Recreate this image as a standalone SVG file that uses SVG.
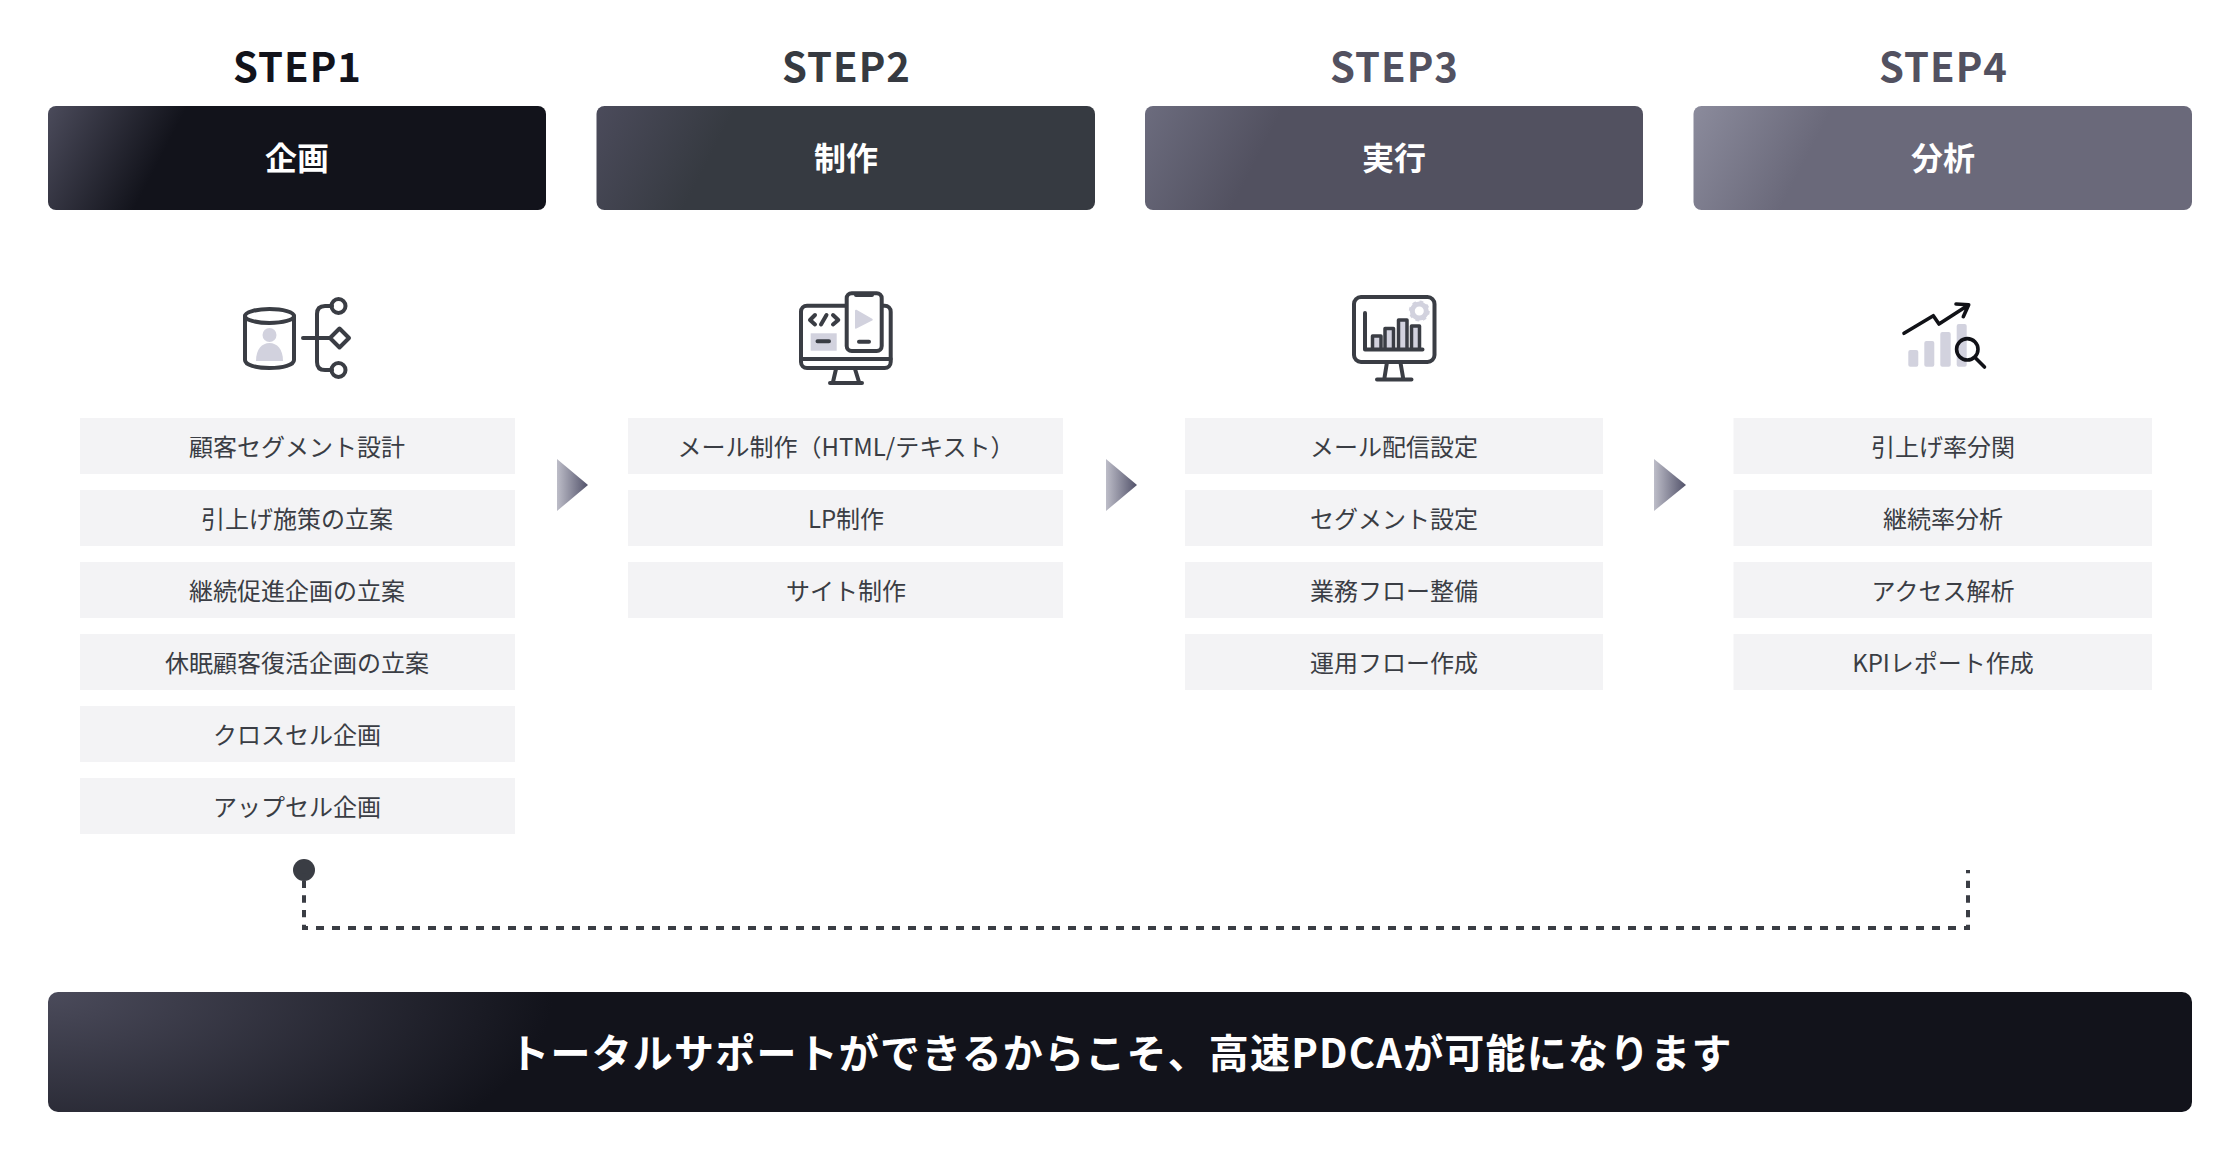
<svg xmlns="http://www.w3.org/2000/svg" width="2240" height="1176" viewBox="0 0 2240 1176">
<style>
text{font-family:"Noto Sans CJK JP","Noto Sans",sans-serif;text-anchor:middle}
.step{font-size:40px;font-weight:700;letter-spacing:1px}
.head{font-size:32px;font-weight:700;fill:#fff}
.item{font-size:24px;font-weight:400;fill:#3a3d44}
.box{fill:#f3f3f5}
.bar{font-size:40px;font-weight:700;fill:#fff;letter-spacing:1.2px}
.ln{fill:none;stroke:#3a3d44;stroke-width:4;stroke-linecap:round;stroke-linejoin:round}
.ac{fill:#d2d2de}
.conn{fill:none;stroke:#3a3d44;stroke-width:4}
</style>
<defs>
<linearGradient id="g1" gradientUnits="userSpaceOnUse" x1="48" y1="106" x2="158" y2="163"><stop offset="0" stop-color="#4b4b5b"/><stop offset="1" stop-color="#12131b"/></linearGradient>
<linearGradient id="g2" gradientUnits="userSpaceOnUse" x1="597" y1="106" x2="707" y2="163"><stop offset="0" stop-color="#4b4b5b"/><stop offset="1" stop-color="#363a41"/></linearGradient>
<linearGradient id="g3" gradientUnits="userSpaceOnUse" x1="1145" y1="106" x2="1255" y2="163"><stop offset="0" stop-color="#6c6c7e"/><stop offset="1" stop-color="#525160"/></linearGradient>
<linearGradient id="g4" gradientUnits="userSpaceOnUse" x1="1694" y1="106" x2="1804" y2="163"><stop offset="0" stop-color="#8b8b9c"/><stop offset="1" stop-color="#6a697a"/></linearGradient>
<radialGradient id="g5" gradientUnits="userSpaceOnUse" cx="0" cy="0" r="1" gradientTransform="translate(48 992) scale(505 218)"><stop offset="0" stop-color="#4b4b5b"/><stop offset="1" stop-color="#12131b"/></radialGradient>
<linearGradient id="ga" x1="0" y1="0" x2="1" y2="0"><stop offset="0" stop-color="#bdbdc8"/><stop offset="1" stop-color="#52526a"/></linearGradient>
</defs>
<rect width="2240" height="1176" fill="#fff"/>

<g id="step1">
<text class="step" x="297.500" y="82" fill="#12131b">STEP1</text>
<rect x="48" y="106" width="498" height="104" rx="8" fill="url(#g1)"/>
<text class="head" x="297" y="170">企画</text>
<g id="icon1">
<path class="ac" d="M256 361C256 349 262 343 269.500 343C277 343 283 349 283 361Z"/><circle class="ac" cx="269.500" cy="335" r="7"/>
<ellipse class="ln" cx="269.500" cy="316" rx="24.500" ry="7"/>
<path class="ln" d="M245 316V360C245 365 256 368 269.500 368C283 368 294 365 294 360V316"/>
<path class="ln" d="M332 306H325Q317 306 317 314V362Q317 370 325 370H332M303 338H330"/>
<circle class="ln" cx="338.500" cy="306" r="7"/><circle class="ln" cx="338.500" cy="370" r="7"/>
<path class="ln" d="M339.500 328.500L349 338L339.500 347.500L330 338Z"/>
</g>
<rect class="box" x="80" y="418" width="435" height="56"/><text class="item" x="297" y="456">顧客セグメント設計</text>
<rect class="box" x="80" y="490" width="435" height="56"/><text class="item" x="297" y="528">引上げ施策の立案</text>
<rect class="box" x="80" y="562" width="435" height="56"/><text class="item" x="297" y="600">継続促進企画の立案</text>
<rect class="box" x="80" y="634" width="435" height="56"/><text class="item" x="297" y="672">休眠顧客復活企画の立案</text>
<rect class="box" x="80" y="706" width="435" height="56"/><text class="item" x="297" y="744">クロスセル企画</text>
<rect class="box" x="80" y="778" width="435" height="56"/><text class="item" x="297" y="816">アップセル企画</text>
</g>

<g id="step2">
<text class="step" x="846.500" y="82" fill="#363a41">STEP2</text>
<rect x="596.500" y="106" width="498.500" height="104" rx="8" fill="url(#g2)"/>
<text class="head" x="846" y="170">制作</text>
<g id="icon2">
<rect class="ln" x="801" y="305.700" width="89.700" height="62.300" rx="6"/>
<path class="ln" d="M801 359H890.700M836 369L833 382M855 369L859 382M830 383H862"/>
<rect class="ac" x="810.700" y="333.300" width="26" height="17.400"/>
<path class="ln" d="M815 315L810 320L815 324.500M821 324.500L826.500 315M833 315L838.300 320L833 324.500M817.500 341.300H829"/>
<rect class="ln" x="846.700" y="293.300" width="35" height="57.700" rx="5" style="fill:#fff"/>
<path class="ac" d="M856 310.700L871.700 319.700L856 327.700Z" stroke="#d2d2de" stroke-width="2" stroke-linejoin="round"/>
<path class="ln" d="M856 295H872M859 341.700H869"/>
</g>
<rect class="box" x="628" y="418" width="435" height="56"/><text class="item" x="846" y="456">メール制作（HTML/テキスト）</text>
<rect class="box" x="628" y="490" width="435" height="56"/><text class="item" x="846" y="528">LP制作</text>
<rect class="box" x="628" y="562" width="435" height="56"/><text class="item" x="846" y="600">サイト制作</text>
</g>

<g id="step3">
<text class="step" x="1394.500" y="82" fill="#525160">STEP3</text>
<rect x="1145" y="106" width="498" height="104" rx="8" fill="url(#g3)"/>
<text class="head" x="1394" y="170">実行</text>
<g id="icon3">
<rect class="ln" x="1354" y="297" width="80.500" height="65" rx="7"/>
<path class="ln" d="M1386.700 364L1384.300 379M1400.700 364L1403.300 379M1377 379.500H1411.500"/>
<circle cx="1419.300" cy="311" r="7" fill="none" stroke="#d2d2de" stroke-width="5"/>
<circle cx="1419.300" cy="311" r="9" fill="none" stroke="#d2d2de" stroke-width="3" stroke-dasharray="3.500 3.570"/>
<rect class="ac" x="1372.500" y="336" width="8.500" height="13"/><rect class="ac" x="1385" y="328.500" width="8.500" height="20.500"/><rect class="ac" x="1398.500" y="320" width="8.500" height="29"/><rect class="ac" x="1411.500" y="326" width="8" height="23"/>
<path class="ln" style="stroke-width:3.500" d="M1372.500 349V336H1381V349M1385 349V328.500H1393.500V349M1398.500 349V320H1407V349M1411.500 349V326H1419.500V349"/>
<path class="ln" d="M1365 313V349.500H1422.500"/>
</g>
<rect class="box" x="1185" y="418" width="418" height="56"/><text class="item" x="1394" y="456">メール配信設定</text>
<rect class="box" x="1185" y="490" width="418" height="56"/><text class="item" x="1394" y="528">セグメント設定</text>
<rect class="box" x="1185" y="562" width="418" height="56"/><text class="item" x="1394" y="600">業務フロー整備</text>
<rect class="box" x="1185" y="634" width="418" height="56"/><text class="item" x="1394" y="672">運用フロー作成</text>
</g>

<g id="step4">
<text class="step" x="1943.500" y="82" fill="#525160">STEP4</text>
<rect x="1693.500" y="106" width="498.500" height="104" rx="8" fill="url(#g4)"/>
<text class="head" x="1943" y="170">分析</text>
<g id="icon4">
<rect class="ac" x="1908.300" y="350" width="10" height="16.700" rx="2"/><rect class="ac" x="1924.300" y="341" width="10" height="25.700" rx="2"/><rect class="ac" x="1940.300" y="332" width="10.400" height="34.700" rx="2"/><rect class="ac" x="1956.700" y="324" width="10" height="42.700" rx="2"/>
<g fill="none" stroke="#111217" stroke-width="3.600" stroke-linecap="round" stroke-linejoin="round">
<path d="M1904 333.300L1933.300 315.700L1939 324L1967.300 305.700M1956 304L1968.700 304.700L1963.300 316.700"/>
<circle cx="1967.300" cy="349.300" r="10.700"/><path d="M1976 358.500L1984.500 367"/>
</g>
</g>
<rect class="box" x="1733.500" y="418" width="418.500" height="56"/><text class="item" x="1943" y="456">引上げ率分関</text>
<rect class="box" x="1733.500" y="490" width="418.500" height="56"/><text class="item" x="1943" y="528">継続率分析</text>
<rect class="box" x="1733.500" y="562" width="418.500" height="56"/><text class="item" x="1943" y="600">アクセス解析</text>
<rect class="box" x="1733.500" y="634" width="418.500" height="56"/><text class="item" x="1943" y="672">KPIレポート作成</text>
</g>

<g id="connectors">
<path d="M557 459L588 485L557 511Z" fill="url(#ga)"/>
<path d="M1106 459L1137 485L1106 511Z" fill="url(#ga)"/>
<path d="M1654 459L1686 485L1654 511Z" fill="url(#ga)"/>
<circle cx="304" cy="870" r="11" fill="#3a3d44"/>
<path class="conn" d="M304 870V930" stroke-dasharray="7.330 7.330" stroke-dashoffset="4"/>
<path class="conn" d="M1968 870V930" stroke-dasharray="7.330 7.330" stroke-dashoffset="4"/>
<path class="conn" d="M302 928H1970" stroke-dasharray="8 8" stroke-dashoffset="2"/>
</g>

<g id="summary">
<rect x="48" y="992" width="2144" height="120" rx="10" fill="url(#g5)"/>
<text class="bar" x="1121" y="1068">トータルサポートができるからこそ、高速PDCAが可能になります</text>
</g>
</svg>
